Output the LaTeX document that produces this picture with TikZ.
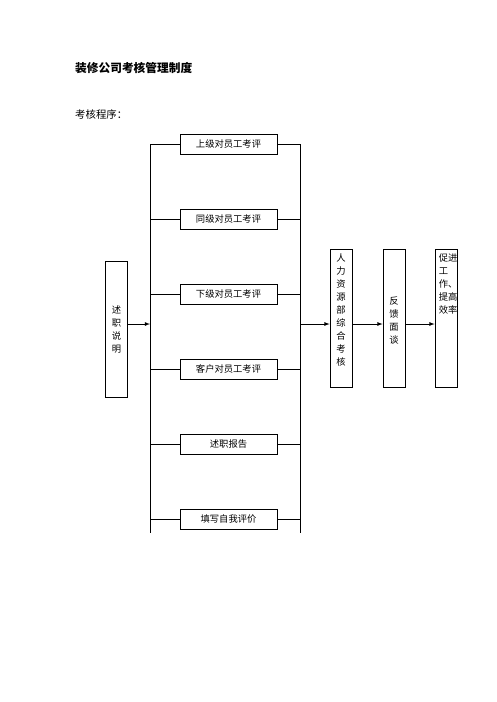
\documentclass[tikz,border=0pt]{standalone}
\usepackage{fontspec}
\setmainfont{Noto Sans CJK SC}
\usetikzlibrary{arrows,positioning,calc}
\newcommand{\boxfont}{\fontsize{9.3}{13}\selectfont}
\tikzset{
>=latex,
  pingbox/.style={
    rectangle,
    draw=black, line width=0.8pt,
    minimum width=97pt,
    minimum height=20pt,
    inner sep=0pt,
    font=\boxfont},
  tallbox/.style={
    rectangle,
    draw=black, line width=0.8pt,
    minimum width=22pt,
    minimum height=138pt,
    inner sep=0pt},
  coltext/.style={font=\boxfont, align=center, inner sep=0pt},
  bus/.style={draw, line width=0.8pt},
  feed/.style={draw, line width=0.8pt, ->},
}
\begin{document}
\begin{tikzpicture}[x=1pt,y=-1pt]
	\useasboundingbox (0,0) rectangle (496,702);

	\node[anchor=west, inner sep=0pt, font=\fontsize{11.7}{14}\selectfont\bfseries] (title) at (75,68) {装修公司考核管理制度};
	\node[anchor=west, inner sep=0pt, font=\fontsize{10.4}{13}\selectfont] (cx) at (75,115) {考核程序：};

	% left column
	\node[pingbox] (sj) at (228.5,144) {上级对员工考评};
	\node[pingbox] (tj) at (228.5,219) {同级对员工考评};
	\node[pingbox] (xj) at (228.5,294) {下级对员工考评};
	\node[pingbox] (kh) at (228.5,369) {客户对员工考评};
	\node[pingbox] (bg) at (228.5,444) {述职报告};
	\node[pingbox] (zp) at (228.5,519) {填写自我评价};

	\coordinate (ltop) at (150,144);
	\coordinate (lbot) at (150,533);
	\coordinate (rtop) at (300,144);
	\coordinate (rbot) at (300,533);
	\coordinate (lin) at (150,324);
	\coordinate (rin) at (300,324);

	\draw[bus] (ltop) -- (lbot);
	\draw[bus] (rtop) -- (rbot);
	\foreach \n in {sj,tj,xj,kh,bg,zp} {
		\draw[bus] (ltop |- \n.west) -- (\n.west);
		\draw[bus] (\n.east) -- (rtop |- \n.east);
	}

	% start
	\node[tallbox, minimum width=21.6pt, minimum height=136pt] (sm) at (116.5,329.7) {};
	\node[coltext] (smt) at (sm.center) {述\\职\\说\\明};
	\draw[feed] (sm.east |- lin) -- (lin);

	% right chain
	\node[tallbox] (hr) at (341,318) {};
	\node[tallbox] (fk) at (394,318) {};
	\node[tallbox] (cj) at (446,318) {};
	\node[coltext, anchor=north] (hrt) at ($(hr.north)+(0,5)$) {人\\力\\资\\源\\部\\综\\合\\考\\核};
	\node[coltext] (fkt) at ($(fk.center)+(0,2)$) {反\\馈\\面\\谈};
	\begin{scope}
		\clip (cj.south west) rectangle (cj.north east);
		\node[coltext, align=left, anchor=north west] (cjt) at ($(cj.north west)+(4,4.5)$) {促进\\工\\作、\\提高\\效率};
	\end{scope}

	\draw[feed] (rin) -- (hr.west |- rin);
	\draw[feed] (hr.east |- rin) -- (fk.west |- rin);
	\draw[feed] (fk.east |- rin) -- (cj.west |- rin);

\end{tikzpicture}
\end{document}
